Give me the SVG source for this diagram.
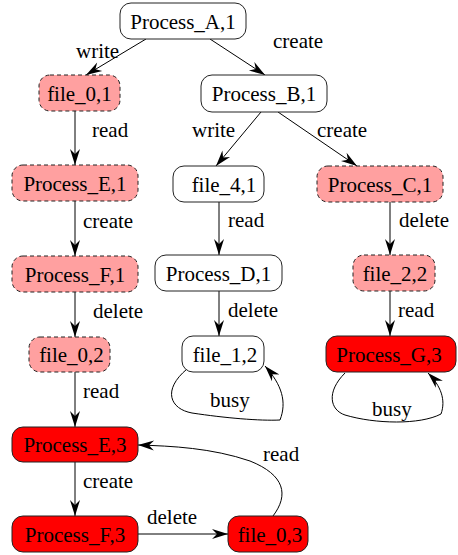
<svg xmlns="http://www.w3.org/2000/svg" width="458" height="555" viewBox="0 0 458 555">
<style>
  .n { stroke: #222; stroke-width: 1; }
  .w { fill: #ffffff; }
  .p { fill: #ffa0a0; stroke-dasharray: 4 3; stroke: #222; }
  .r { fill: #ff0000; }
  text { font-family: 'Liberation Serif', 'DejaVu Serif', serif; font-size: 21px; fill: #000; }
  .c { text-anchor: middle; }
  .e { fill: none; stroke: #000; stroke-width: 1; marker-end: url(#ah); }
</style>
<defs>
  <marker id="ah" viewBox="-17 -6 18 12" refX="0" refY="0" markerWidth="18" markerHeight="12" markerUnits="userSpaceOnUse" orient="auto">
    <path d="M0,0 L-16,-5 L-11,0 L-16,5 Z" fill="#000"/>
  </marker>
</defs>
<rect width="458" height="555" fill="#fff"/>
<g id="connectors">
  <path class="e" d="M146,39 L86,75"/>
  <path class="e" d="M210,39 L265,75"/>
  <path class="e" d="M75,111 L75,165"/>
  <path class="e" d="M261,112 L216,166"/>
  <path class="e" d="M278,112 L357,166"/>
  <path class="e" d="M75,201 L75,256"/>
  <path class="e" d="M219,202 L219,255"/>
  <path class="e" d="M390,202 L390,255"/>
  <path class="e" d="M75,292 L75,337"/>
  <path class="e" d="M219,291 L219,336"/>
  <path class="e" d="M390,291 L390,336"/>
  <path class="e" d="M75,372 L75,427"/>
  <path class="e" d="M75,462 L75,516"/>
  <path class="e" d="M187,369 C162,390 170,409 192,413 C225,418 260,421 280,420 C287,402 282,385 265,366"/>
  <path class="e" d="M345,373 C326,392 330,410 345,415 C375,424 420,425 441,414 C446,400 441,386 428,373"/>
  <path class="e" d="M138,534 L228,534"/>
  <path class="e" d="M273,516 C289,495 285,475 250,461 C212,448 172,446 138,445"/>
  <text x="76" y="58">write</text>
  <text x="273" y="48">create</text>
  <text x="92" y="137">read</text>
  <text x="192" y="137">write</text>
  <text x="317" y="137">create</text>
  <text x="83" y="228">create</text>
  <text x="228" y="227">read</text>
  <text x="399" y="227">delete</text>
  <text x="93" y="318">delete</text>
  <text x="228" y="317">delete</text>
  <text x="398" y="317">read</text>
  <text x="83" y="398">read</text>
  <text x="210" y="407">busy</text>
  <text x="372" y="416">busy</text>
  <text x="83" y="488">create</text>
  <text x="147" y="524">delete</text>
  <text x="263" y="461">read</text>
</g>
<g id="Process_A_1"><rect class="n w" x="120" y="3" width="126" height="36" rx="11"/><text class="c" x="183" y="29">Process_A,1</text></g>
<g id="file_0_1"><rect class="n p" x="39" y="75" width="81" height="36" rx="11"/><text class="c" x="79.5" y="101">file_0,1</text></g>
<g id="Process_B_1"><rect class="n w" x="201" y="75" width="126" height="37" rx="11"/><text class="c" x="264" y="101">Process_B,1</text></g>
<g id="Process_E_1"><rect class="n p" x="12" y="165" width="126" height="36" rx="11"/><text class="c" x="75" y="191">Process_E,1</text></g>
<g id="file_4_1"><rect class="n w" x="173" y="166" width="91" height="36" rx="11"/><text class="c" x="224" y="192">file_4,1</text></g>
<g id="Process_C_1"><rect class="n p" x="317" y="166" width="126" height="36" rx="11"/><text class="c" x="380" y="192">Process_C,1</text></g>
<g id="Process_F_1"><rect class="n p" x="12" y="256" width="126" height="36" rx="11"/><text class="c" x="75" y="282">Process_F,1</text></g>
<g id="Process_D_1"><rect class="n w" x="155" y="255" width="127" height="36" rx="11"/><text class="c" x="218.5" y="281">Process_D,1</text></g>
<g id="file_2_2"><rect class="n p" x="353" y="255" width="82" height="36" rx="11"/><text class="c" x="395" y="281">file_2,2</text></g>
<g id="file_0_2"><rect class="n p" x="29" y="337" width="81" height="35" rx="11"/><text class="c" x="71.5" y="362">file_0,2</text></g>
<g id="file_1_2"><rect class="n w" x="182" y="336" width="82" height="36" rx="11"/><text class="c" x="225" y="362">file_1,2</text></g>
<g id="Process_G_3"><rect class="n r" x="326" y="336" width="130" height="36" rx="11"/><text class="c" x="389" y="362">Process_G,3</text></g>
<g id="Process_E_3"><rect class="n r" x="12" y="427" width="126" height="35" rx="11"/><text class="c" x="75" y="452">Process_E,3</text></g>
<g id="Process_F_3"><rect class="n r" x="12" y="516" width="126" height="36" rx="11"/><text class="c" x="75" y="542">Process_F,3</text></g>
<g id="file_0_3"><rect class="n r" x="228" y="516" width="80" height="36" rx="11"/><text class="c" x="270" y="542">file_0,3</text></g>
</svg>
